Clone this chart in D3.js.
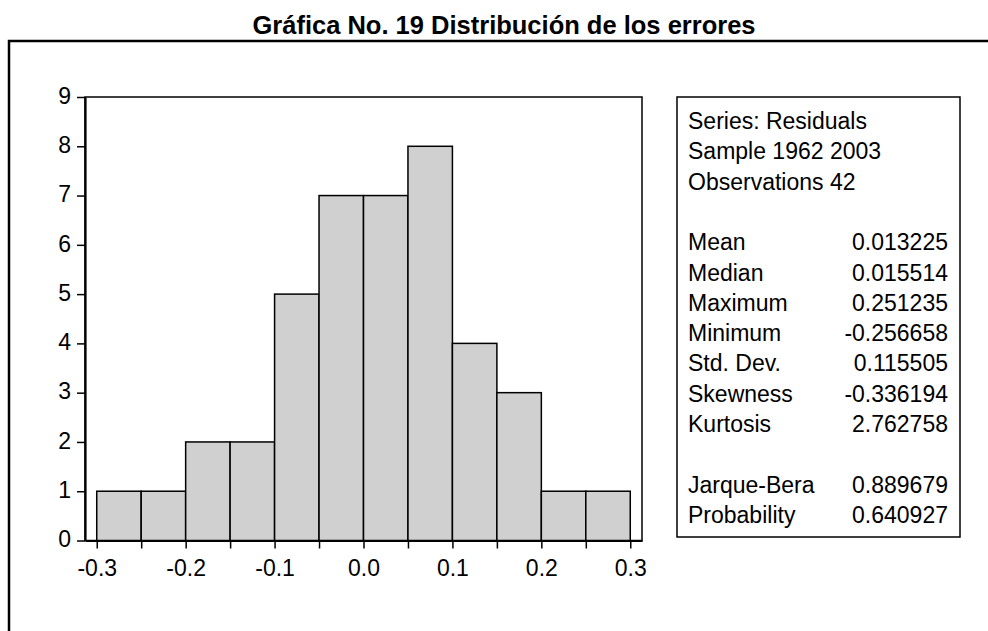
<!DOCTYPE html>
<html lang="es"><head><meta charset="UTF-8">
<title>Distribución de los errores</title>
<script src="https://cdn.jsdelivr.net/npm/d3@7"></script>
<style>
  body { margin:0; background:#fff; }
  text { font-family: Arial, "Liberation Sans", sans-serif; fill:#000; }
</style>
</head>
<body>
<div id="chart"></div>
<script>
// histograma de residuos (ancho de clase 0.05)
const binStart = [-0.30,-0.25,-0.20,-0.15,-0.10,-0.05,0.00,0.05,0.10,0.15,0.20,0.25];
const binCount = [1,1,2,2,5,7,7,8,4,3,1,1];
const binWidth = 0.05;

const xTicks = [-0.30,-0.25,-0.20,-0.15,-0.10,-0.05,0.00,0.05,0.10,0.15,0.20,0.25,0.30];
const xLabels = [-0.3,-0.2,-0.1,0.0,0.1,0.2,0.3];
const yTicks = [0,1,2,3,4,5,6,7,8,9];

// cuadro de estadisticos
const headLines = ["Series: Residuals","Sample 1962 2003","Observations 42"];
const statNames = ["Mean","Median","Maximum","Minimum","Std. Dev.","Skewness","Kurtosis"];
const statValues = ["0.013225","0.015514","0.251235","-0.256658","0.115505","-0.336194","2.762758"];
const testNames = ["Jarque-Bera","Probability"];
const testValues = ["0.889679","0.640927"];

const W = 988, H = 631;
const svg = d3.select("#chart").append("svg")
    .attr("width", W).attr("height", H);

// titulo y marco
svg.append("text")
    .attr("x", 504).attr("y", 34)
    .attr("text-anchor","middle")
    .attr("font-size", 25.5).attr("font-weight","bold")
    .text("Gráfica No. 19 Distribución de los errores");
svg.append("path")
    .attr("d","M988,41H9V631")
    .attr("fill","none").attr("stroke","#000").attr("stroke-width",2.5);

const x = d3.scaleLinear().domain([-0.3132, 0.3132]).range([85, 642]);
const y = d3.scaleLinear().domain([0, 9]).range([540.5, 97]);

// caja del grafico
svg.append("rect")
    .attr("x", x.range()[0]).attr("y", y(9))
    .attr("width", x.range()[1]-x.range()[0]).attr("height", y(0)-y(9))
    .attr("fill","none").attr("stroke","#000").attr("stroke-width",1.5);

// barras
svg.selectAll(".bar").data(binStart).enter().append("rect")
    .attr("class","bar")
    .attr("x", d => x(d))
    .attr("y", (d,i) => y(binCount[i]))
    .attr("width", d => x(d+binWidth)-x(d))
    .attr("height", (d,i) => y(0)-y(binCount[i]))
    .attr("fill","#d0d0d0").attr("stroke","#000").attr("stroke-width",1.5);

// ejes
const fmt = d => xLabels.some(v => Math.abs(v-d) < 1e-9) ? d.toFixed(1) : "";
const gx = svg.append("g").attr("transform","translate(0,"+y(0)+")")
    .call(d3.axisBottom(x).tickValues(xTicks).tickFormat(fmt).tickSize(8).tickSizeOuter(0).tickPadding(11));
const gy = svg.append("g").attr("transform","translate("+x.range()[0]+",0)")
    .call(d3.axisLeft(y).tickValues(yTicks).tickFormat(d3.format("d")).tickSize(8).tickSizeOuter(0).tickPadding(6));
[gx, gy].forEach(g => {
  g.attr("font-family", null).attr("font-size", null);
  g.select(".domain").attr("stroke-width", 2.2);
  g.selectAll(".tick line").attr("stroke-width", 1.5);
  g.selectAll("text").attr("font-size", 23);
});
gy.selectAll("text").attr("dy", "0.27em");

// leyenda
const lx = 677, ly = 97, lw = 283, lh = 440;
svg.append("rect").attr("x",lx).attr("y",ly).attr("width",lw).attr("height",lh)
    .attr("fill","#fff").attr("stroke","#000").attr("stroke-width",1.5);

const rowH = 30.3, row0 = 129;
const rows = [];
headLines.forEach(t => rows.push([t, ""]));
rows.push(["",""]);
statNames.forEach((t,i) => rows.push([t, statValues[i]]));
rows.push(["",""]);
testNames.forEach((t,i) => rows.push([t, testValues[i]]));

const lg = svg.append("g").attr("font-size", 23);
rows.forEach((r,i) => {
  lg.append("text").attr("x", 688).attr("y", row0 + i*rowH).text(r[0]);
  lg.append("text").attr("x", 948).attr("y", row0 + i*rowH)
    .attr("text-anchor","end").text(r[1]);
});
</script>
</body></html>
